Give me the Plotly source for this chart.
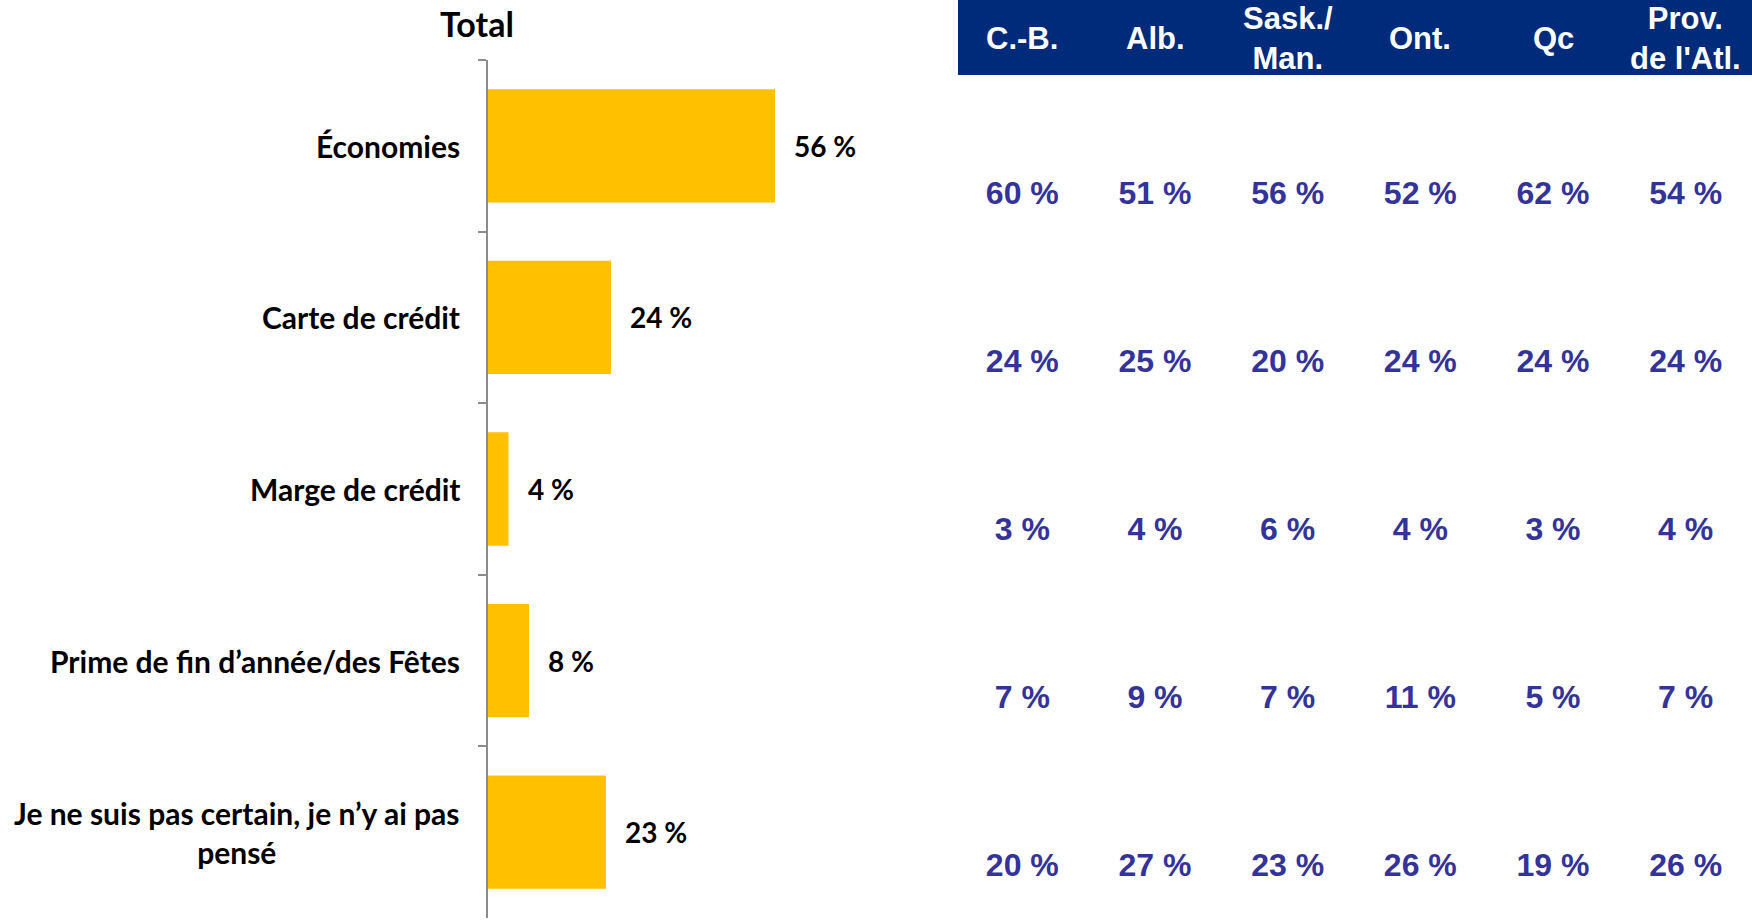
import plotly.graph_objects as go

# ---------------- data ----------------
categories = [
    "Économies",
    "Carte de crédit",
    "Marge de crédit",
    "Prime de fin d’année/des Fêtes",
    "Je ne suis pas certain, je n’y ai pas pensé",
]
category_labels = [
    "Économies",
    "Carte de crédit",
    "Marge de crédit",
    "Prime de fin d’année/des Fêtes",
    "Je ne suis pas certain, je n’y ai pas<br>pensé",
]
total = [56, 24, 4, 8, 23]

regions = ["C.-B.", "Alb.", "Sask./Man.", "Ont.", "Qc", "Prov. de l'Atl."]
region_labels = ["C.-B.", "Alb.", "Sask./<br>Man.", "Ont.", "Qc", "Prov.<br>de l'Atl."]
cb = [60, 24, 3, 7, 20]
alb = [51, 25, 4, 9, 27]
sask_man = [56, 20, 6, 7, 23]
ont = [52, 24, 4, 11, 26]
qc = [62, 24, 3, 5, 19]
atl = [54, 24, 4, 7, 26]
region_values = [cb, alb, sask_man, ont, qc, atl]

# ---------------- figure ----------------
W, H = 1752, 922
LEFT_FONT = "Lato"
RIGHT_FONT = "Liberation Sans"
BAR_COLOR = "#FFC000"
NAVY = "#002A7A"
VAL_COLOR = "#333399"

fig = go.Figure()

fig.add_trace(go.Bar(
    x=total, y=categories, orientation="h",
    marker=dict(color=BAR_COLOR, line=dict(width=0)),
    xaxis="x", yaxis="y", showlegend=False, hoverinfo="skip",
))

# region table values as text marks
xs, ys, ts = [], [], []
for r, vals in zip(regions, region_values):
    for c, v in zip(categories, vals):
        xs.append(r)
        ys.append(c)
        ts.append(f"{v} %")
fig.add_trace(go.Scatter(
    x=xs, y=ys, text=ts, mode="text", xaxis="x2", yaxis="y2",
    textfont=dict(family=RIGHT_FONT, size=32, color=VAL_COLOR, weight="bold"),
    textposition="middle center", showlegend=False, hoverinfo="skip",
))

annotations = []
# value labels next to bars
for c, v in zip(categories, total):
    annotations.append(dict(
        x=v, y=c, xref="x", yref="y", text=f"{v} %", showarrow=False,
        xanchor="left", xshift=17,
        font=dict(family=LEFT_FONT, size=28, color="#000000", weight="bold"),
    ))
# category labels (centered multi-line like the original)
for c, lab in zip(categories, category_labels):
    annotations.append(dict(
        x=0, y=c, xref="x", yref="y", text=lab, showarrow=False,
        xanchor="right", xshift=-26, align="center",
        font=dict(family=LEFT_FONT, size=30, color="#000000", weight="bold"),
    ))
# title
annotations.append(dict(
    x=477 / W, y=1 - 23 / H, xref="paper", yref="paper", text="Total",
    showarrow=False, xanchor="center", yanchor="middle",
    font=dict(family=LEFT_FONT, size=34, color="#000000", weight="bold"),
))
# region headers
for r, lab in zip(regions, region_labels):
    annotations.append(dict(
        x=r, y=1 - 38 / H, xref="x2", yref="paper", text=lab,
        showarrow=False, xanchor="center", yanchor="middle", align="center",
        font=dict(family=RIGHT_FONT, size=31, color="#FFFFFF", weight="bold"),
    ))

x_left, x_right = 488, 940
px_per_unit = 287 / 56

fig.update_layout(
    width=W, height=H,
    margin=dict(l=0, r=0, t=0, b=0),
    paper_bgcolor="white", plot_bgcolor="white",
    bargap=0.34,
    xaxis=dict(
        domain=[x_left / W, x_right / W],
        range=[0, (x_right - x_left) / px_per_unit],
        visible=False, fixedrange=True,
    ),
    yaxis=dict(
        domain=[1 - 918 / H, 1 - 60 / H],
        categoryorder="array", categoryarray=categories,
        autorange="reversed",
        showline=True, linecolor="#8C8C8C", linewidth=2,
        ticks="outside", ticklen=8, tickcolor="#8C8C8C", tickwidth=2,
        tickson="boundaries", showticklabels=False,
        showgrid=False, zeroline=False,
    ),
    xaxis2=dict(
        domain=[956 / W, 1.0], range=[-0.5, 5.5],
        categoryorder="array", categoryarray=regions,
        visible=False, anchor="y2",
    ),
    yaxis2=dict(
        domain=[0, 1], anchor="x2",
        categoryorder="array", categoryarray=categories,
        range=[4.321, -1.167], visible=False,
    ),
    shapes=[dict(
        type="rect", xref="paper", yref="paper",
        x0=958 / W, x1=1.0, y0=1 - 75 / H, y1=1.0,
        fillcolor=NAVY, line=dict(width=0), layer="below",
    )],
    annotations=annotations,
)

fig.write_html(
    "out.html",
    config={"displayModeBar": False},
    post_script="document.body.style.margin='0px';document.body.style.overflow='hidden';",
)
